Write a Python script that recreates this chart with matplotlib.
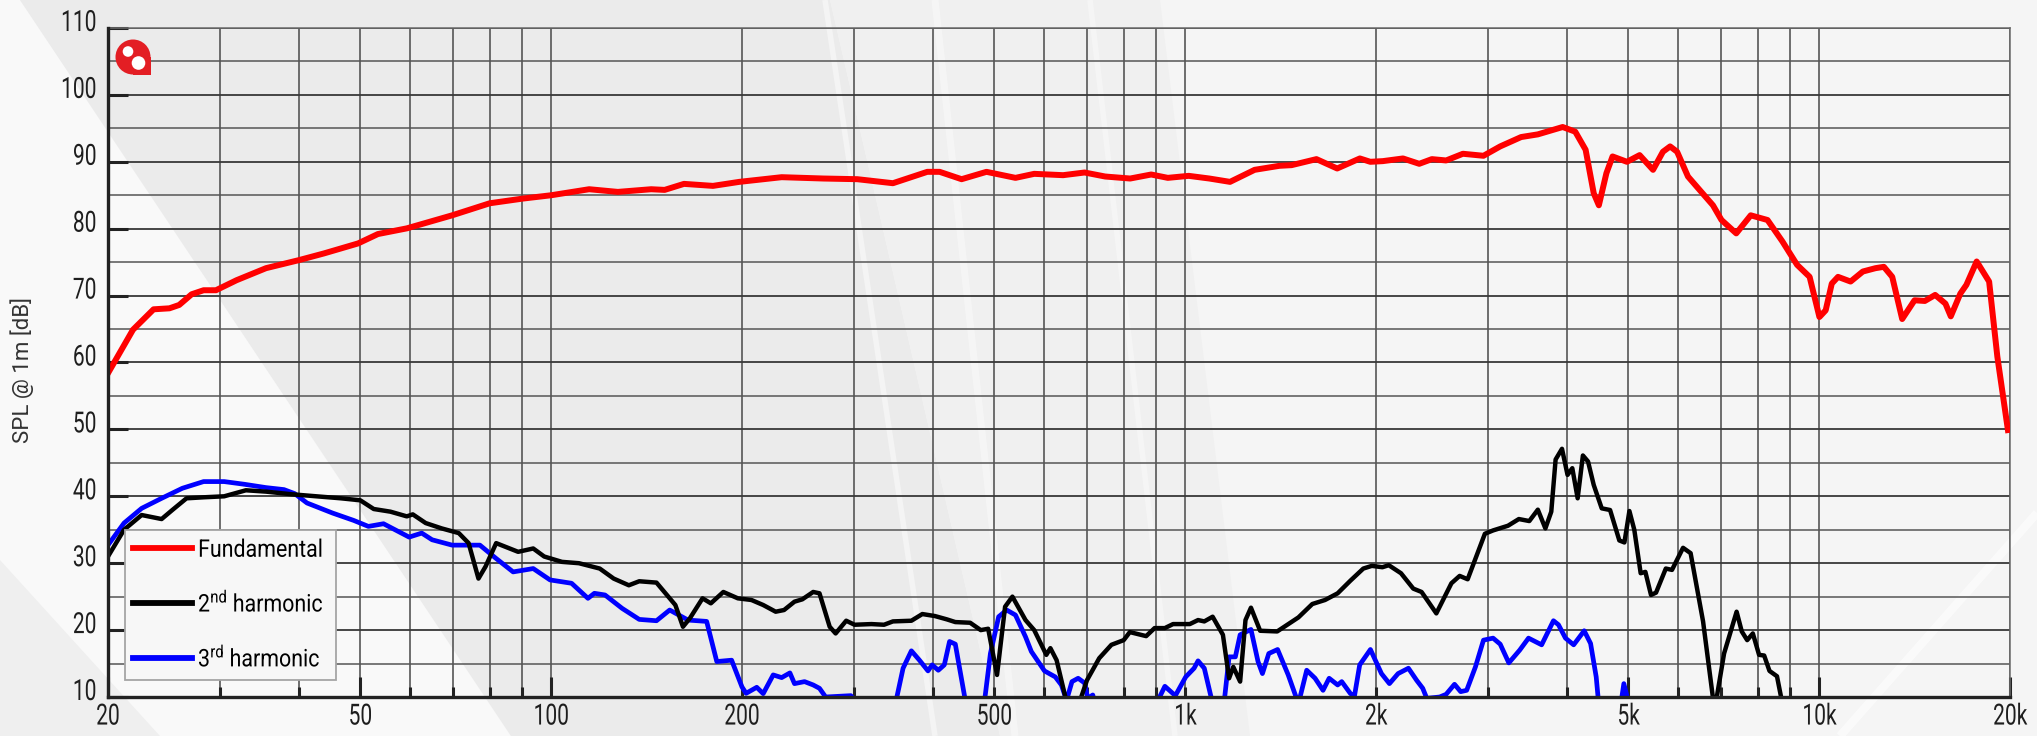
import numpy as np
import matplotlib
matplotlib.use("Agg")
import matplotlib.pyplot as plt
from matplotlib.ticker import FixedLocator, FixedFormatter, NullFormatter
from matplotlib.patches import Circle, Rectangle, Polygon
from matplotlib.lines import Line2D
from matplotlib.patheffects import AbstractPathEffect
from matplotlib.transforms import Affine2D, ScaledTranslation, Bbox
from matplotlib.offsetbox import TextArea

# ---------------- data (frequency in Hz, level in dB) ----------------
fundamental = [
    (20, 58.4), (21.9, 64.9), (23.6, 67.95), (25.0, 68.1), (25.9, 68.6), (27.1, 70.2),
    (28.3, 70.8), (29.6, 70.8), (31.9, 72.3), (35.5, 74.1), (40, 75.3), (43.8, 76.3),
    (49.6, 77.8), (53.3, 79.2), (59.2, 80.05), (69.8, 82.0), (80, 83.8), (90.2, 84.5),
    (100, 85.0), (114.8, 85.9), (127.4, 85.5), (143.8, 85.9), (151, 85.8), (162, 86.7),
    (180, 86.4), (198, 87.0), (231, 87.7), (269, 87.5), (304, 87.4), (346, 86.8),
    (392, 88.5), (410, 88.5), (444, 87.4), (486, 88.5), (540, 87.6), (578, 88.2),
    (642, 88.0), (694, 88.4), (748, 87.8), (819, 87.5), (884, 88.1), (939, 87.6),
    (1013, 87.9), (1092, 87.5), (1177, 87.0), (1287, 88.8), (1408, 89.4), (1472, 89.5),
    (1611, 90.4), (1737, 89.0), (1886, 90.5), (1959, 90.0), (2050, 90.1), (2206, 90.5),
    (2340, 89.7), (2450, 90.4), (2580, 90.2), (2742, 91.2), (2955, 90.9), (3140, 92.3),
    (3388, 93.7), (3600, 94.1), (3940, 95.2), (4124, 94.5), (4282, 91.8), (4410, 85.3),
    (4493, 83.5), (4618, 88.3), (4722, 90.8), (4975, 90.0), (5210, 91.0), (5470, 88.8),
    (5670, 91.5), (5820, 92.3), (5970, 91.5), (6210, 87.8), (6450, 86.0), (6800, 83.5),
    (7014, 81.3), (7400, 79.3), (7800, 82.0), (8290, 81.3), (8750, 78.1), (9230, 74.6),
    (9660, 72.8), (10010, 66.8), (10240, 67.8), (10470, 71.8), (10710, 72.8), (11210, 72.1),
    (11720, 73.6), (12270, 74.1), (12650, 74.3), (13040, 72.8), (13520, 66.5), (14140, 69.3),
    (14680, 69.2), (15240, 70.1), (15820, 68.8), (16130, 66.9), (16700, 70.3), (17070, 71.6),
    (17720, 75.1), (18540, 72.1), (19100, 60.9), (19850, 49.9),
]

harmonic2 = [
    (20, 31.0), (21.2, 35.0), (22.6, 37.2), (24.3, 36.6), (25.3, 38.0), (26.6, 39.7),
    (28.3, 39.85), (30.5, 40.0), (33.0, 40.9), (35.5, 40.7), (39.0, 40.3), (42.7, 40.0),
    (46.6, 39.7), (50.0, 39.4), (52.5, 38.1), (55.8, 37.7), (59.2, 37.0), (60.5, 37.3),
    (63.4, 36.0), (67.2, 35.2), (71.5, 34.5), (74.1, 33.0), (76.8, 27.7), (78.8, 29.5),
    (81.9, 33.0), (88.7, 31.7), (93.7, 32.2), (97.5, 31.0), (104, 30.2), (110.6, 30.0),
    (119.3, 29.2), (125.5, 27.7), (132.6, 26.7), (137.7, 27.3), (146.6, 27.1), (157, 23.75),
    (161.4, 20.5), (165.6, 21.8), (173.3, 24.75), (178.6, 24.0), (186.9, 25.7), (197, 24.75),
    (207, 24.5), (216, 23.75), (226, 22.75), (233, 23.0), (242, 24.25), (249, 24.6),
    (259, 25.7), (265, 25.5), (275, 20.5), (281, 19.5), (292, 21.4), (301, 20.8),
    (320, 20.9), (335, 20.8), (346, 21.3), (370, 21.4), (385, 22.4), (403, 22.1),
    (421, 21.6), (434, 21.2), (458, 21.1), (476, 20.0), (489, 20.2), (505, 13.3),
    (520, 23.5), (534, 25.0), (560, 21.5), (578, 20.0), (604, 16.3), (613, 17.3),
    (627, 15.5), (651, 9.0), (680, 9.0), (700, 12.5), (732, 15.8), (765, 17.8),
    (800, 18.5), (818, 19.7), (868, 19.1), (895, 20.3), (929, 20.3), (957, 20.9),
    (1017, 20.9), (1048, 21.5), (1072, 21.3), (1105, 22.0), (1147, 19.3), (1173, 12.8),
    (1191, 14.5), (1221, 12.3), (1245, 21.5), (1270, 23.35), (1313, 19.9), (1397, 19.8),
    (1509, 21.9), (1587, 23.9), (1662, 24.5), (1740, 25.5), (1823, 27.4), (1910, 29.2),
    (1970, 29.6), (2047, 29.4), (2095, 29.7), (2190, 28.5), (2290, 26.2), (2360, 25.7),
    (2490, 22.5), (2630, 27.0), (2710, 28.1), (2790, 27.6), (2970, 34.4), (3060, 34.9),
    (3230, 35.6), (3360, 36.6), (3490, 36.3), (3600, 38.0), (3700, 35.2), (3780, 37.7),
    (3840, 45.5), (3930, 47.1), (4010, 43.2), (4080, 44.2), (4160, 39.7), (4240, 46.1),
    (4320, 45.2), (4410, 41.7), (4540, 38.2), (4680, 37.95), (4840, 33.4), (4930, 33.1),
    (5020, 37.8), (5110, 35.0), (5230, 28.5), (5320, 28.7), (5430, 25.25), (5530, 25.6),
    (5730, 29.2), (5860, 29.0), (6100, 32.3), (6270, 31.5), (6560, 21.3), (6840, 8.0),
    (7080, 16.5), (7410, 22.75), (7550, 19.8), (7700, 18.5), (7860, 19.5), (8040, 16.3),
    (8190, 16.2), (8350, 13.9), (8580, 13.1), (8750, 9.0),
]

harmonic3 = [
    (20, 32.7), (21.2, 36.0), (22.6, 38.2), (24.3, 39.7), (26.2, 41.2), (28.3, 42.2),
    (30.5, 42.2), (32.8, 41.8), (35.5, 41.3), (37.9, 41.0), (39.4, 40.4), (41.2, 39.0),
    (45.2, 37.5), (48.8, 36.4), (51.5, 35.5), (54.4, 35.9), (59.7, 33.9), (62.5, 34.5),
    (64.9, 33.5), (69.8, 32.7), (77.2, 32.7), (81.9, 30.7), (87.1, 28.7), (93.7, 29.2),
    (99.6, 27.5), (107.7, 27.0), (114.3, 24.75), (117, 25.5), (121.6, 25.25), (129.4, 23.25),
    (137.7, 21.6), (146.6, 21.4), (153.8, 23.0), (164.4, 21.5), (175.9, 21.3), (182.5, 15.3),
    (192.6, 15.5), (200, 11.5), (203, 10.55), (211, 11.45), (216, 10.5), (224, 13.3),
    (231, 12.9), (238, 13.6), (242, 12.0), (251, 12.3), (259, 11.8), (265, 11.3),
    (271, 10.0), (297, 10.2), (310, 8.0), (345, 8.0), (351, 10.0), (359, 14.3),
    (370, 16.9), (381, 15.5), (393, 13.9), (399, 14.8), (408, 14.0), (417, 14.8),
    (425, 18.3), (434, 17.9), (451, 9.0), (482, 9.0), (493, 16.5), (508, 22.0),
    (523, 23.0), (540, 22.25), (560, 19.0), (572, 16.8), (600, 13.9), (624, 13.0),
    (638, 11.8), (650, 9.5), (663, 12.3), (678, 12.8), (694, 12.1), (702, 9.8),
    (715, 10.3), (725, 8.0), (890, 8.0), (929, 11.6), (965, 10.2), (1002, 13.0),
    (1033, 14.3), (1048, 15.4), (1072, 14.3), (1105, 9.0), (1150, 8.5), (1173, 16.0),
    (1200, 16.0), (1221, 19.3), (1270, 20.1), (1303, 15.3), (1324, 13.5), (1355, 16.5),
    (1399, 17.1), (1454, 13.3), (1509, 9.0), (1555, 14.0), (1603, 12.8), (1650, 11.0),
    (1687, 12.8), (1740, 11.8), (1766, 12.3), (1823, 10.5), (1850, 10.2), (1885, 14.8),
    (1960, 17.1), (2040, 13.5), (2100, 12.0), (2167, 13.5), (2250, 14.3), (2318, 12.5),
    (2370, 11.3), (2405, 9.8), (2520, 10.0), (2580, 10.4), (2660, 11.9), (2720, 10.8),
    (2780, 11.0), (2870, 14.5), (2955, 18.5), (3060, 18.8), (3140, 17.9), (3240, 15.1),
    (3370, 17.0), (3480, 18.8), (3650, 17.8), (3810, 21.4), (3880, 20.8), (3980, 18.8),
    (4100, 17.8), (4260, 19.9), (4360, 18.0), (4450, 13.0), (4500, 8.0), (4850, 8.0),
    (4920, 12.0), (5040, 8.0),
]

series_labels = ["Fundamental", "2$^{\\mathregular{nd}}$ harmonic", "3$^{\\mathregular{rd}}$ harmonic"]
series_colors = ["#ff0000", "#000000", "#0000ff"]

x_tall_ticks = [20, 50, 100, 5000, 10000, 20000]
x_tall_labels = ["20", "50", "100", "5k", "10k", "20k"]
x_short_ticks = [30, 40, 60, 70, 80, 90, 200, 300, 400, 500, 600, 700, 800, 900,
                 1000, 2000, 3000, 4000, 6000, 7000, 8000, 9000]
x_short_labels = {200: "200", 500: "500", 1000: "1k", 2000: "2k"}
y_ticks = list(range(10, 111, 10))
y_minor = list(range(15, 110, 10))
y_label = "SPL @ 1m [dB]"

LEG_SX = 0.88


class Condense(AbstractPathEffect):
    """Draw the text path horizontally compressed (narrow typeface look)."""
    def __init__(self, sx=0.72, anchor="center"):
        super().__init__()
        self.sx = sx
        self.anchor = anchor

    def draw_path(self, renderer, gc, tpath, affine, rgbFace=None):
        ext = tpath.get_extents(affine)
        if self.anchor == "center":
            x0 = 0.5 * (ext.x0 + ext.x1)
        elif self.anchor == "right":
            x0 = ext.x1
        else:
            x0 = ext.x0
        aff = affine + Affine2D().translate(-x0, 0).scale(self.sx, 1.0).translate(x0, 0)
        renderer.draw_path(gc, tpath, aff, rgbFace)


# ---------------- figure ----------------
W, H = 2037, 736
plt.rcParams["font.family"] = ["Roboto", "DejaVu Sans"]
plt.rcParams["mathtext.default"] = "regular"

fig = plt.figure(figsize=(W / 100, H / 100), dpi=100)
fig.patch.set_facecolor("#f5f5f5")

# background decoration (pixel coordinates)
bg = fig.add_axes([0, 0, 1, 1], zorder=-10)
bg.set_xlim(0, W); bg.set_ylim(H, 0); bg.axis("off")
bg.add_patch(Polygon([(0, 0), (20, 0), (511, 736), (0, 736)], closed=True, fc="#f9f9f9", ec="none"))
bg.add_patch(Polygon([(20, 0), (830, 0), (1000, 736), (511, 736)], closed=True, fc="#ebebeb", ec="none"))
bg.add_patch(Polygon([(830, 0), (1160, 0), (1250, 736), (1000, 736)], closed=True, fc="#f0f0f0", ec="none"))
bg.add_patch(Polygon([(0, 560), (0, 736), (160, 736)], closed=True, fc="#efefef", ec="none"))
for (x0, y0, x1, y1, w, a) in [(825, 0, 935, 736, 4, 0.45), (935, 0, 1015, 736, 5, 0.4),
                               (1090, 0, 1175, 736, 4, 0.35), (1840, 736, 2037, 513, 6, 0.6)]:
    bg.plot([x0, x1], [y0, y1], color="white", lw=w, alpha=a, solid_capstyle="butt")

# main axes
ax = fig.add_axes([108 / W, 1 - 697 / H, (2010 - 108) / W, (697 - 28) / H])
ax.set_facecolor("none")
ax.set_xscale("log")
ax.set_xlim(20, 20000)
ax.set_ylim(10, 110)

ax.xaxis.set_major_locator(FixedLocator(x_tall_ticks))
ax.xaxis.set_major_formatter(FixedFormatter(x_tall_labels))
ax.xaxis.set_minor_locator(FixedLocator(x_short_ticks))
ax.xaxis.set_minor_formatter(FixedFormatter([x_short_labels.get(t, "") for t in x_short_ticks]))
ax.yaxis.set_major_locator(FixedLocator(y_ticks))
ax.yaxis.set_minor_locator(FixedLocator(y_minor))
ax.yaxis.set_minor_formatter(NullFormatter())

tick_col = "#1e1e1e"
ax.tick_params(axis="x", which="major", direction="in", length=14.5, width=2.2,
               color="#222222", labelsize=21, pad=4, labelcolor=tick_col)
ax.tick_params(axis="x", which="minor", direction="in", length=7.5, width=2.2,
               color="#222222", labelsize=21, pad=4, labelcolor=tick_col)
ax.tick_params(axis="y", which="major", direction="in", length=14.5, width=2.2,
               color="#222222", labelsize=21, pad=8, labelcolor=tick_col)
ax.tick_params(axis="y", which="minor", length=0)

ax.grid(True, which="major", axis="y", color="#383838", lw=1.3)
ax.grid(True, which="minor", axis="y", color="#555555", lw=1.1)
ax.grid(True, which="both", axis="x", color="#484848", lw=1.1)
ax.set_axisbelow(True)

for side in ("left", "bottom"):
    ax.spines[side].set_linewidth(2.4)
    ax.spines[side].set_color("#222222")
    ax.spines[side].set_zorder(5)
for side in ("top", "right"):
    ax.spines[side].set_linewidth(1.1)
    ax.spines[side].set_color("#6a6a6a")

# curves
h3f, h3d = zip(*harmonic3)
h2f, h2d = zip(*harmonic2)
ff, fd = zip(*fundamental)
ax.plot(h3f, h3d, color=series_colors[2], lw=3.4, solid_joinstyle="round", zorder=3)
ax.plot(h2f, h2d, color=series_colors[1], lw=3.2, solid_joinstyle="round", zorder=3.5)
ax.plot(ff, fd, color=series_colors[0], lw=4.3, solid_joinstyle="round", zorder=4)

# legend
handles = [Line2D([], [], color=c, lw=4.2) for c in series_colors]
leg = ax.legend(handles, series_labels, loc="lower left", bbox_to_anchor=(0.0089, 0.0254),
                borderaxespad=0, fontsize=17.5, frameon=True, fancybox=False, framealpha=1,
                facecolor="#f7f7f7", edgecolor="#a5a5a5", handlelength=2.4,
                handletextpad=0.25, labelspacing=1.2, borderpad=0.35)
leg.get_frame().set_linewidth(1.3)
leg.set_zorder(6)


def _narrow_textareas(box):
    """Make legend text boxes as wide as the condensed text actually drawn."""
    try:
        kids = box.get_children()
    except Exception:
        return
    for c in kids:
        if isinstance(c, TextArea):
            orig = c.get_bbox

            def shrunk(renderer, _orig=orig):
                b = _orig(renderer)
                return Bbox.from_bounds(b.x0, b.y0, b.width * LEG_SX + 4, b.height)
            c.get_bbox = shrunk
        else:
            _narrow_textareas(c)


try:
    _narrow_textareas(leg._legend_box)
except Exception:
    pass

# y label
fig.text(22 / W, 1 - 370 / H, y_label, rotation=90, ha="center", va="center",
         fontsize=16, color="#333333")

# logo (pixel coordinates overlay)
top = fig.add_axes([0, 0, 1, 1], zorder=20)
top.set_xlim(0, W); top.set_ylim(H, 0); top.axis("off")
top.patch.set_alpha(0)
top.add_patch(Circle((133, 57), 17.5, fc="#e31e24", ec="none"))
top.add_patch(Rectangle((133, 57), 18, 17.5, fc="#e31e24", ec="none"))
top.add_patch(Circle((128, 51.5), 5.3, fc="white", ec="none"))
top.add_patch(Circle((138.5, 63), 6.8, fc="white", ec="none"))

# narrow-typeface look for tick labels and legend
fig.canvas.draw()
for lbl in ax.get_xticklabels(which="both"):
    lbl.set_path_effects([Condense(0.72, "center")])
up = ScaledTranslation(0, 8 / 100, fig.dpi_scale_trans)
for lbl in ax.get_yticklabels():
    lbl.set_path_effects([Condense(0.72, "right")])
    lbl.set_transform(lbl.get_transform() + up)
for t in leg.get_texts():
    t.set_path_effects([Condense(LEG_SX, "left")])

fig.savefig("out.png", dpi=100, facecolor=fig.get_facecolor())
